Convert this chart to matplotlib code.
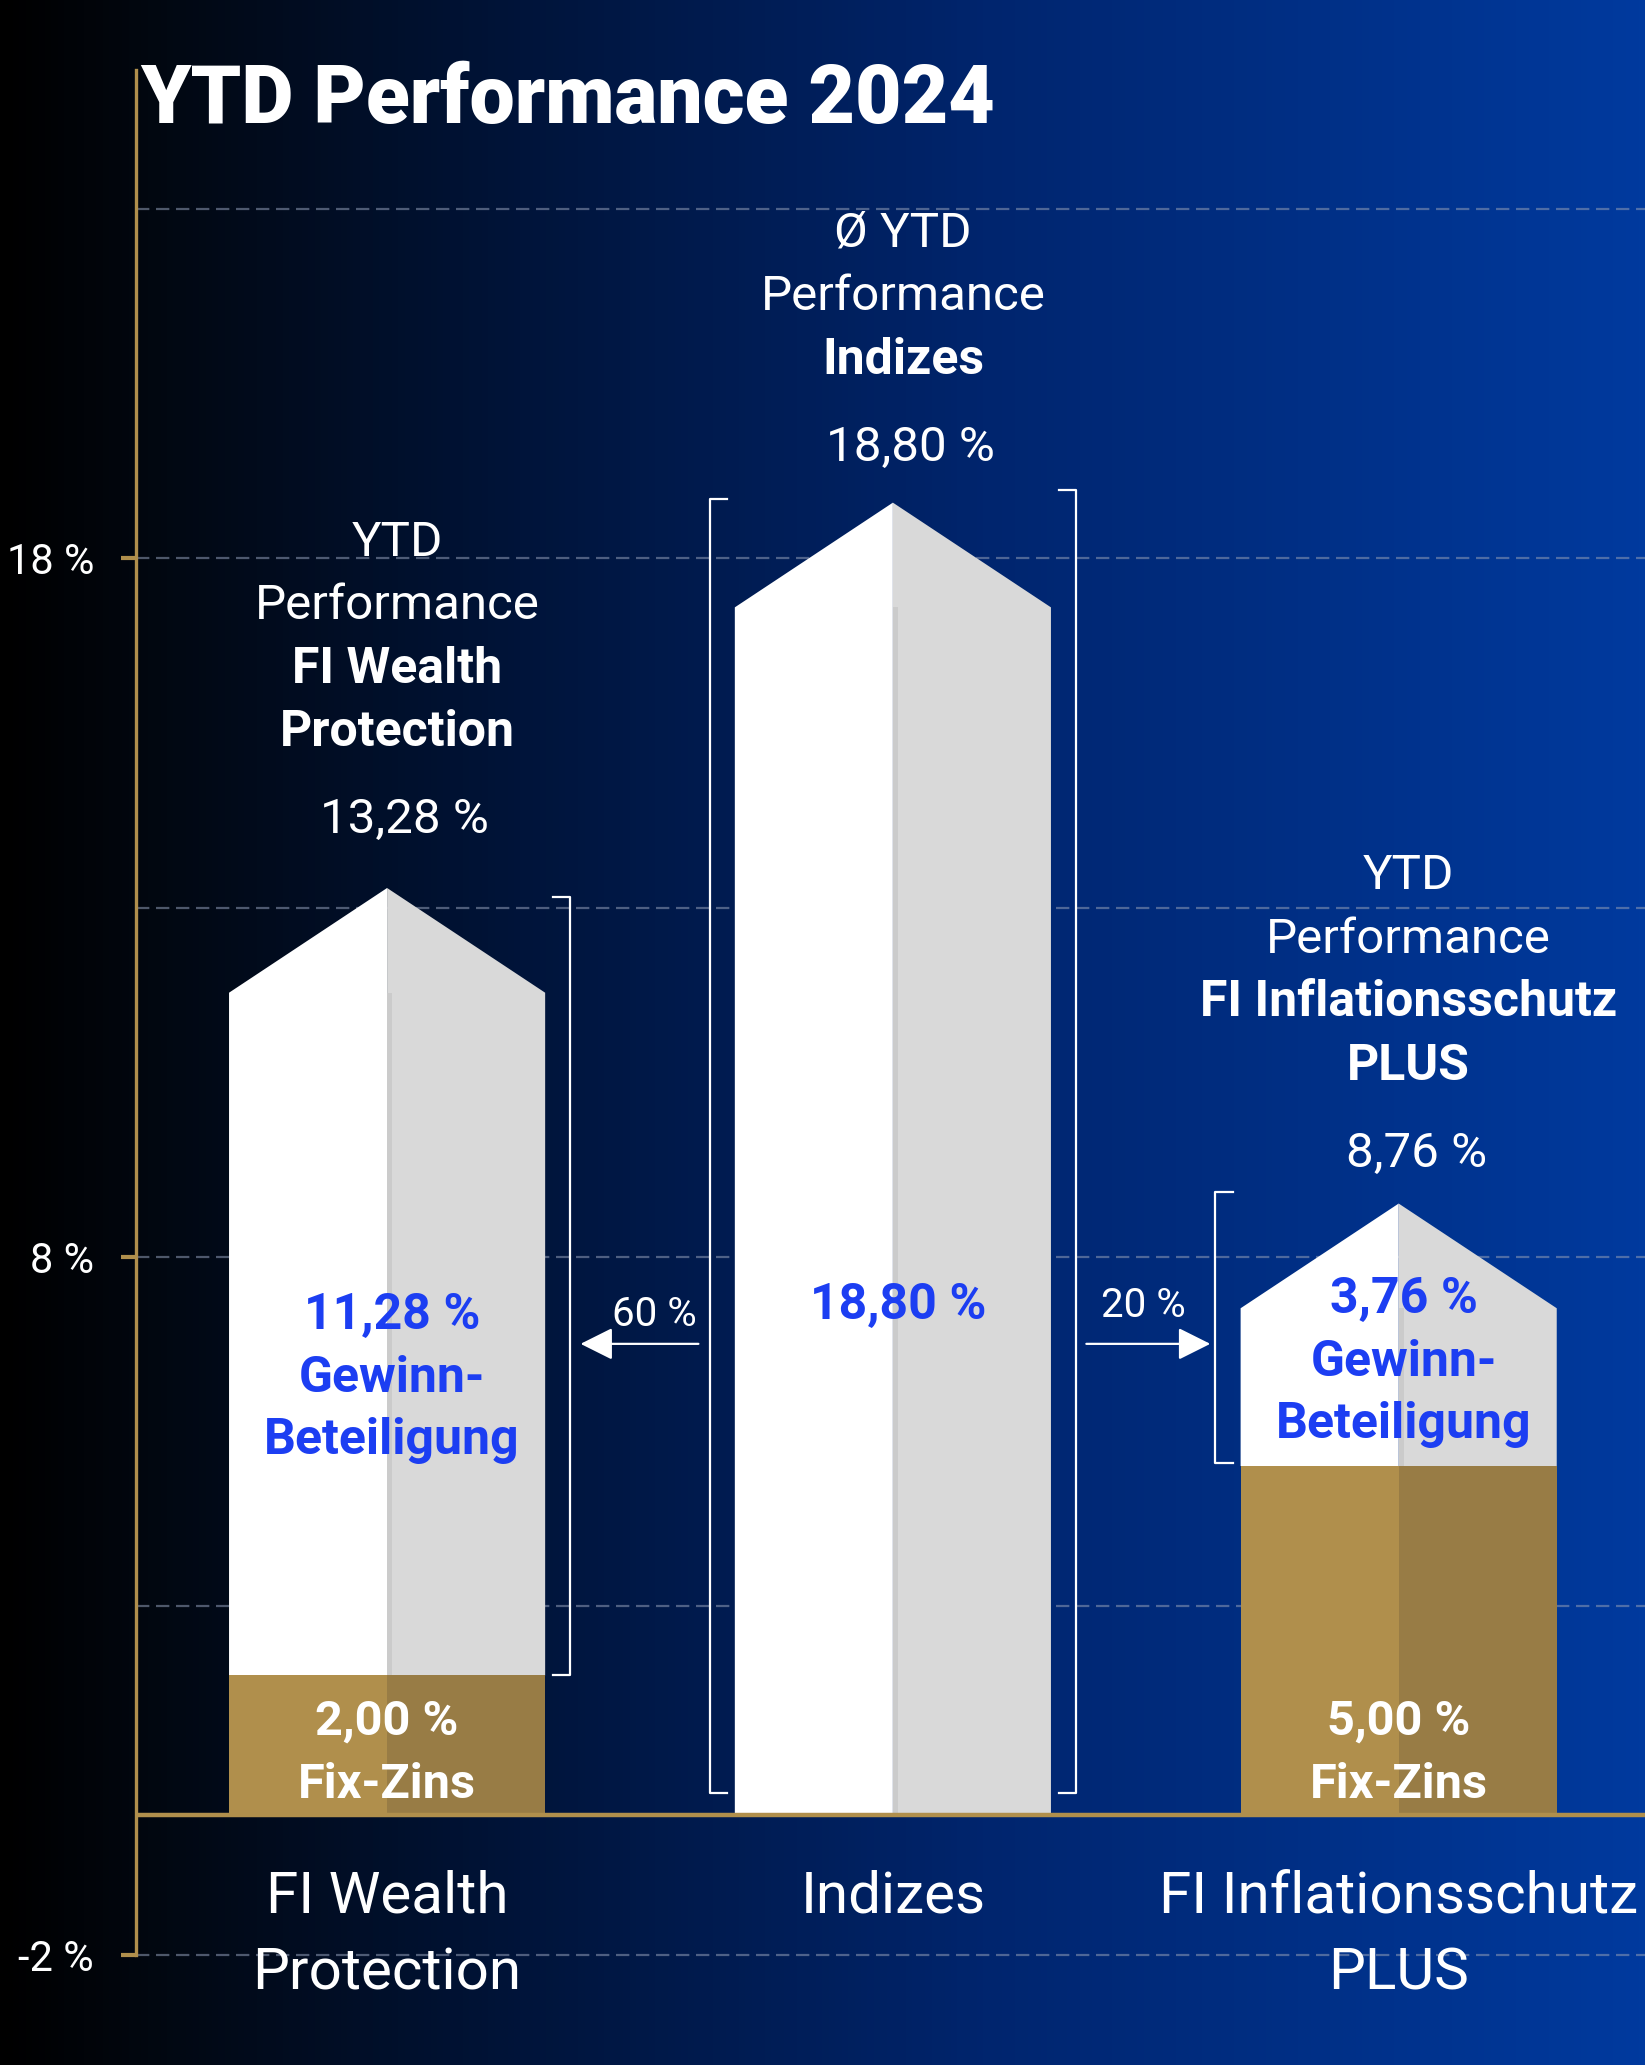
import numpy as np
import matplotlib.pyplot as plt
from matplotlib.colors import LinearSegmentedColormap
from matplotlib.patches import FancyArrowPatch

plt.rcParams['font.family'] = ['Roboto', 'DejaVu Sans']

# data
categories = ['FI Wealth\nProtection', 'Indizes', 'FI Inflationsschutz\nPLUS']
total_ytd = [13.28, 18.80, 8.76]
fix_zins = [2.00, 0.00, 5.00]
gewinn = [11.28, 18.80, 3.76]
header_lines = [['YTD', 'Performance', 'FI Wealth', 'Protection'],
                ['Ø YTD', 'Performance', 'Indizes'],
                ['YTD', 'Performance', 'FI Inflationsschutz', 'PLUS']]
header_bold = [[False, False, True, True],
               [False, False, True],
               [False, False, True, True]]
share_labels = ['60 %', '20 %']
y_ticks = [18, 8, -2]
y_ticklabels = ['18 %', '8 %', '-2 %']
grid_levels = [23, 18, 13, 8, 3, -2]

GOLD = '#b08f4c'
GOLD_DARK = '#987c45'
BLUE = '#1c3ef2'
GREY = '#d9d9d9'

# label placement tweaks (per bar)
value_gap = [0.97, 0.78, 0.71]
inner_start = [7.15, 7.3, 7.38]


def pct(v):
    return f"{v:.2f}".replace('.', ',') + ' %'


fig = plt.figure(figsize=(16.45, 20.65), dpi=100)

# background gradient
bg = fig.add_axes([0, 0, 1, 1], zorder=0)
cmap = LinearSegmentedColormap.from_list(
    'bg', [(0, '#000000'), (0.1, '#020812'), (0.35, '#001640'),
           (0.6, '#00256e'), (1.0, '#003a9e')])
bg.imshow(np.linspace(0, 1, 512)[None, :], aspect='auto', cmap=cmap,
          extent=[0, 1, 0, 1])
bg.axis('off')

ax = fig.add_axes([0.0825, 0, 0.9175, 1], zorder=1)
ax.patch.set_alpha(0)
ax.set_xlim(-0.497, 2.487)
ax.set_ylim(-3.58, 26.0)

for s in ['top', 'right', 'bottom']:
    ax.spines[s].set_visible(False)
ax.spines['left'].set_color(GOLD)
ax.spines['left'].set_linewidth(2.4)
ax.spines['left'].set_bounds(-2, 25)
ax.set_xticks([])
ax.set_yticks(y_ticks)
ax.set_yticklabels(y_ticklabels)
ax.tick_params(axis='y', colors=GOLD, length=11, width=3, pad=19,
               labelcolor='white', labelsize=30)

for g in grid_levels:
    ax.axhline(g, color='#8f9bb5', alpha=0.55, lw=1.6, ls=(0, (6, 3)), zorder=1)

w = 0.625
tip = 1.5
x = np.arange(len(categories))

for i, c in enumerate(x):
    top = total_ytd[i]
    fz = fix_zins[i]
    sh = top - tip
    ax.fill([c - w / 2, c, c, c - w / 2], [fz, fz, top, sh], color='white', zorder=3, lw=0)
    ax.fill([c, c + w / 2, c + w / 2, c], [fz, fz, sh, top], color=GREY, zorder=3, lw=0)
    ax.fill_between([c, c + 0.01], fz, sh, color='#cbcbcb', zorder=3.5, lw=0)
    if fz > 0:
        ax.bar(c - w / 4, fz, width=w / 2, color=GOLD, zorder=3, lw=0)
        ax.bar(c + w / 4, fz, width=w / 2, color=GOLD_DARK, zorder=3, lw=0)
        ax.text(c, 1.34, pct(fz), ha='center', va='center', color='white',
                fontsize=35, fontweight='bold', zorder=5)
        ax.text(c, 0.43, 'Fix-Zins', ha='center', va='center', color='white',
                fontsize=35, fontweight='bold', zorder=5)

    # headline above bar
    val_y = top + value_gap[i]
    ax.text(c + 0.035, val_y, pct(top), ha='center', va='center',
            color='white', fontsize=35.5, zorder=5)
    lines = header_lines[i]
    for k, (t, b) in enumerate(zip(lines[::-1], header_bold[i][::-1])):
        ax.text(c + 0.02, val_y + 1.26 + k * 0.905, t, ha='center', va='center',
                color='white', fontsize=36 if b else 35.5,
                fontweight='bold' if b else 'normal', zorder=5)

    # blue labels inside bar
    inner = [pct(gewinn[i])]
    if fz > 0:
        inner += ['Gewinn-', 'Beteiligung']
    for k, t in enumerate(inner):
        ax.text(c + 0.01, inner_start[i] - k * 0.89, t, ha='center', va='center',
                color=BLUE, fontsize=36, fontweight='bold', zorder=5)

    # category label
    ax.text(c, -0.78, categories[i], ha='center', va='top', color='white',
            fontsize=42, linespacing=1.5, zorder=5)

ax.axhline(0, xmin=0, xmax=1, color=GOLD, lw=3.2, zorder=4)


def bracket(xb, y0, y1, side):
    hook = 0.035 * side
    ax.plot([xb + hook, xb, xb, xb + hook], [y1, y1, y0, y0],
            color='white', lw=1.6, zorder=4, solid_joinstyle='round')


gap = 0.05
b1r = x[0] + w / 2 + gap
b2l = x[1] - w / 2 - gap
b2r = x[1] + w / 2 + gap
b3l = x[2] - w / 2 - gap
bracket(b1r, fix_zins[0], total_ytd[0] - 0.13, -1)
bracket(b2l, 0.32, total_ytd[1] + 0.05, 1)
bracket(b2r, 0.32, total_ytd[1] + 0.18, -1)
bracket(b3l, fix_zins[2] + 0.04, total_ytd[2] + 0.16, 1)

arrow_y = 6.75
for (x0, x1), lab, ly, dx in zip([(b2l - 0.022, b1r + 0.02), (b2r + 0.02, b3l - 0.01)],
                                 share_labels, [7.17, 7.3], [0.03, -0.01]):
    ax.add_patch(FancyArrowPatch((x0, arrow_y), (x1, arrow_y),
                                 arrowstyle='-|>,head_length=1.0,head_width=0.5',
                                 mutation_scale=20, color='white', lw=1.6,
                                 shrinkA=0, shrinkB=0, zorder=4))
    ax.text((x0 + x1) / 2 + dx, ly, lab,
            ha='center', va='center', color='white', fontsize=29, zorder=5)

fig.text(0.0855, 0.951, 'YTD Performance 2024', ha='left', va='center',
         color='white', fontsize=58, fontweight='heavy')

fig.savefig('out.png', dpi=100)
